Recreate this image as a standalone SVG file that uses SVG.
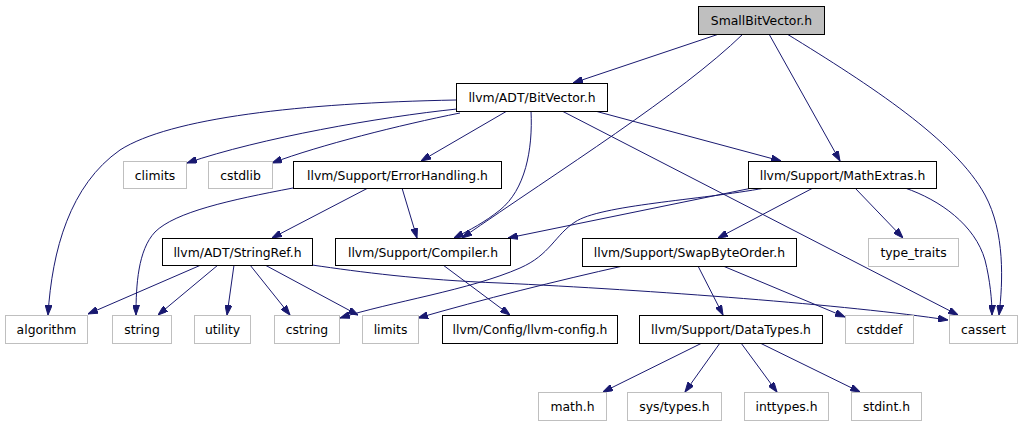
<svg xmlns="http://www.w3.org/2000/svg" width="1031" height="427" viewBox="0 0 1031 427">
<style>
.n rect{fill:#fff;stroke:#000;stroke-width:1}
.n.s rect{stroke:#bfbfbf}
.n.r rect{fill:#bfbfbf}
.n text{font-family:"DejaVu Sans",sans-serif;font-size:12.4px;fill:#000;text-anchor:middle}
#edges path{fill:none;stroke:#191970;stroke-width:1;marker-end:url(#ah)}
</style>
<defs>
<marker id="ah" viewBox="0 0 10 7" refX="10" refY="3.5" markerWidth="10" markerHeight="7" markerUnits="userSpaceOnUse" orient="auto">
<path d="M0,0 L10,3.5 L0,7 z" fill="#191970" stroke="#191970" stroke-width="1"/>
</marker>
</defs>
<rect width="1031" height="427" fill="#fff"/>
<g id="edges">
<path d="M719,34 L573,83"/>
<path d="M743,34 C680,95 560,170 462,238"/>
<path d="M769,34 L840,161"/>
<path d="M787,34 C870,85 955,140 985,195 C1005,232 1003,282 999,315"/>
<path d="M456,100 C300,103 170,118 120,150 C70,185 52,250 48,315"/>
<path d="M457,109 C380,117 260,138 187,163"/>
<path d="M460,113 C400,125 320,145 272,163"/>
<path d="M507,111 L421,161"/>
<path d="M531,111 C533,150 525,190 500,210 C485,222 470,230 454,238"/>
<path d="M595,111 L781,161"/>
<path d="M562,111 L958,315"/>
<path d="M293,188 C230,200 175,212 155,232 C138,250 136,285 136,315"/>
<path d="M368,188 L272,238"/>
<path d="M402,188 L417,238"/>
<path d="M757,187 L508,238"/>
<path d="M765,188 C700,200 600,205 575,222 C555,235 550,255 520,268 C470,290 390,302 340,318"/>
<path d="M813,188 L718,238"/>
<path d="M855,188 L903,238"/>
<path d="M905,188 C940,200 975,225 985,260 C990,280 992,300 992,315"/>
<path d="M201,265 L88,314"/>
<path d="M218,265 L158,315"/>
<path d="M234,265 L227,315"/>
<path d="M250,265 L290,315"/>
<path d="M265,265 L358,315"/>
<path d="M312,265 C360,272 420,280 500,283 C650,290 850,305 948,320"/>
<path d="M443,265 L510,315"/>
<path d="M623,266 C560,280 480,300 418,318"/>
<path d="M698,266 L723,315"/>
<path d="M723,266 L845,317"/>
<path d="M702,343 L603,392"/>
<path d="M720,343 L685,392"/>
<path d="M741,343 L777,392"/>
<path d="M760,343 L860,392"/>
</g>
<g id="n_sbv" class="n r"><rect x="698.5" y="6.5" width="126" height="28"/><text x="761.5" y="25">SmallBitVector.h</text></g>
<g id="n_bitvector" class="n"><rect x="456.5" y="83.5" width="151" height="28"/><text x="532" y="102">llvm/ADT/BitVector.h</text></g>
<g id="n_climits" class="n s"><rect x="123.5" y="161.5" width="63" height="27"/><text x="155" y="179.5">climits</text></g>
<g id="n_cstdlib" class="n s"><rect x="208.5" y="161.5" width="64" height="27"/><text x="240.5" y="179.5">cstdlib</text></g>
<g id="n_errorhandling" class="n"><rect x="293.5" y="161.5" width="208" height="27"/><text x="397.5" y="179.5">llvm/Support/ErrorHandling.h</text></g>
<g id="n_mathextras" class="n"><rect x="748.5" y="161.5" width="188" height="27"/><text x="842.5" y="179.5">llvm/Support/MathExtras.h</text></g>
<g id="n_swapbyteorder" class="n"><rect x="582.5" y="238.5" width="214" height="28"/><text x="689.5" y="257">llvm/Support/SwapByteOrder.h</text></g>
<g id="n_type_traits" class="n s"><rect x="868.5" y="238.5" width="90" height="28"/><text x="913.5" y="257">type_traits</text></g>
<g id="n_stringref" class="n"><rect x="162.5" y="238.5" width="150" height="27"/><text x="237.5" y="256.5">llvm/ADT/StringRef.h</text></g>
<g id="n_compiler" class="n"><rect x="335.5" y="238.5" width="175" height="27"/><text x="423" y="256.5">llvm/Support/Compiler.h</text></g>
<g id="n_algorithm" class="n s"><rect x="5.5" y="315.5" width="82" height="28"/><text x="46.5" y="334">algorithm</text></g>
<g id="n_string" class="n s"><rect x="112.5" y="315.5" width="59" height="28"/><text x="142" y="334">string</text></g>
<g id="n_utility" class="n s"><rect x="194.5" y="315.5" width="56" height="28"/><text x="222.5" y="334">utility</text></g>
<g id="n_cstring" class="n s"><rect x="274.5" y="315.5" width="65" height="28"/><text x="307" y="334">cstring</text></g>
<g id="n_limits" class="n s"><rect x="362.5" y="315.5" width="56" height="28"/><text x="390.5" y="334">limits</text></g>
<g id="n_llvmconfig" class="n"><rect x="442.5" y="315.5" width="175" height="28"/><text x="530" y="334">llvm/Config/llvm-config.h</text></g>
<g id="n_datatypes" class="n"><rect x="639.5" y="315.5" width="183" height="28"/><text x="731" y="334">llvm/Support/DataTypes.h</text></g>
<g id="n_cstddef" class="n s"><rect x="845.5" y="315.5" width="68" height="28"/><text x="879.5" y="334">cstddef</text></g>
<g id="n_cassert" class="n s"><rect x="949.5" y="315.5" width="68" height="28"/><text x="983.5" y="334">cassert</text></g>
<g id="n_math" class="n s"><rect x="538.5" y="392.5" width="68" height="28"/><text x="572.5" y="411">math.h</text></g>
<g id="n_systypes" class="n s"><rect x="627.5" y="392.5" width="94" height="28"/><text x="674.5" y="411">sys/types.h</text></g>
<g id="n_inttypes" class="n s"><rect x="744.5" y="392.5" width="84" height="28"/><text x="786.5" y="411">inttypes.h</text></g>
<g id="n_stdint" class="n s"><rect x="851.5" y="392.5" width="70" height="28"/><text x="886.5" y="411">stdint.h</text></g>
</svg>
